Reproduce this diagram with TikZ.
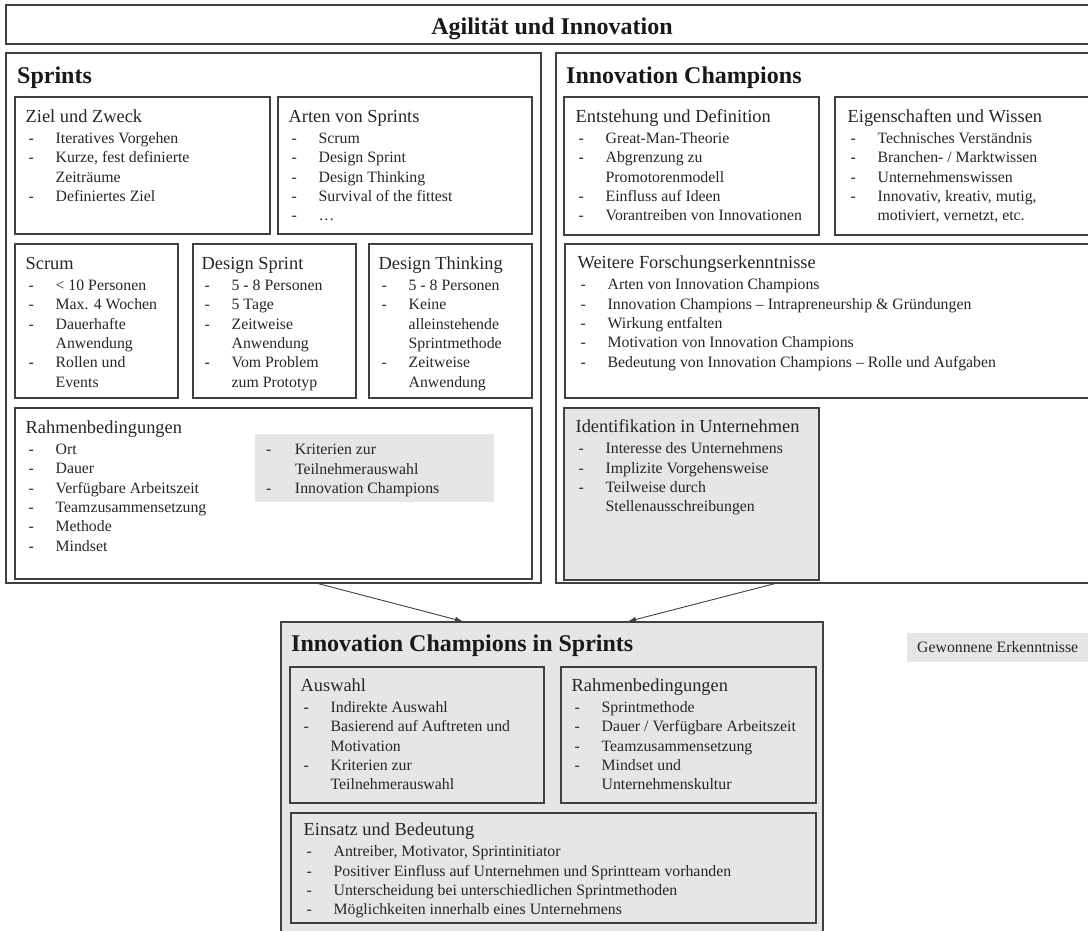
\documentclass[tikz,border=0pt]{standalone}
\usepackage{fontspec}
\setmainfont{Liberation Serif}
\usepackage{tikz}
\usetikzlibrary{positioning,arrows.meta}

\definecolor{linegray}{RGB}{64,64,64}
\definecolor{fillgray}{RGB}{230,230,230}
\definecolor{textgray}{RGB}{38,38,38}

\newcommand{\headfont}{\fontsize{18.4}{22}\selectfont}
% heading plus dashed list
\newcommand{\boxlist}[2]{%
  \begin{tabular}[t]{@{\hspace{3pt}}p{27pt}@{}l@{}}
    \multicolumn{2}{@{}l@{}}{\headfont #1}\\[1.4pt]
    #2
  \end{tabular}}
% dashed list only
\newcommand{\plainlist}[1]{%
  \begin{tabular}[t]{@{}p{29pt}@{}l@{}}
    #1
  \end{tabular}}

\begin{document}
\begin{tikzpicture}[x=1pt, y=-1pt,
  box/.style = {draw=linegray, line width=1.1pt, rectangle, inner sep=0pt},
  greybox/.style = {box, fill=fillgray},
  txt/.style = {anchor=base west, inner sep=0pt, text=textgray, font=\fontsize{15.8}{19.4}\selectfont},
  bigtitle/.style = {anchor=base west, inner sep=0pt, text=black!90, font=\bfseries\fontsize{24}{28}\selectfont},
  arr/.style = {draw=linegray, line width=0.9pt, -{Latex[length=8pt,width=5.5pt]}}]

\useasboundingbox (0,0) rectangle (1088,930);

% Boxes
\node[box, minimum width=1094pt, minimum height=39pt] (top) at (553,24.5) {};
\node[box, minimum width=535pt, minimum height=530pt] (sprints) at (273.5,318) {};
\node[box, minimum width=255pt, minimum height=137pt] (ziel) at (142.5,165.5) {};
\node[box, minimum width=254pt, minimum height=137pt] (arten) at (405,165.5) {};
\node[box, minimum width=163pt, minimum height=154pt] (scrum) at (96.5,321) {};
\node[box, minimum width=163pt, minimum height=154pt] (dsprint) at (274.5,321) {};
\node[box, minimum width=163pt, minimum height=154pt] (dthink) at (450.5,321) {};
\node[box, minimum width=517pt, minimum height=171pt] (rahmen) at (273.5,493.5) {};
\node[fill=fillgray, inner sep=0pt, minimum width=239pt, minimum height=68pt] (krit) at (374.5,468) {};

\node[box, minimum width=544pt, minimum height=530pt] (ic) at (828,318) {};
\node[box, minimum width=255pt, minimum height=138pt] (entst) at (691.5,166) {};
\node[box, minimum width=265pt, minimum height=138pt] (eigen) at (967.5,166) {};
\node[box, minimum width=535pt, minimum height=154pt] (weitere) at (832.5,321) {};
\node[greybox, minimum width=255pt, minimum height=172pt] (ident) at (691.5,494) {};

\node[greybox, minimum width=542pt, minimum height=318pt] (ics) at (552,781) {};
\node[box, minimum width=254pt, minimum height=136pt] (auswahl) at (417,735) {};
\node[box, minimum width=255pt, minimum height=136pt] (rahmen2) at (688.5,735) {};
\node[box, minimum width=525pt, minimum height=110pt] (einsatz) at (553.5,868) {};

\node[fill=fillgray, inner sep=0pt, minimum width=193pt, minimum height=29pt] (gewonnen) at (1003.5,647.5) {};

% Titles
\node[bigtitle, anchor=base] (top-txt) at (552,34) {Agilität und Innovation};
\node[bigtitle] (sprints-txt) at (17,83) {Sprints};
\node[bigtitle] (ic-txt) at (566,83) {Innovation Champions};
\node[bigtitle] (ics-txt) at (291,651) {Innovation Champions in Sprints};

% Texts
\node[txt] (ziel-txt) at ([shift={(11pt,-26pt)}]ziel.north west) {\boxlist{Ziel und Zweck}{%
  - & Iteratives Vorgehen\\
  - & Kurze, fest definierte\\
    & Zeiträume\\
  - & Definiertes Ziel}};
\node[txt] (arten-txt) at ([shift={(11pt,-26pt)}]arten.north west) {\boxlist{Arten von Sprints}{%
  - & Scrum\\
  - & Design Sprint\\
  - & Design Thinking\\
  - & Survival of the fittest\\
  - & …}};
\node[txt] (scrum-txt) at ([shift={(11pt,-26pt)}]scrum.north west) {\boxlist{Scrum}{%
  - & < 10 Personen\\
  - & Max. 4 Wochen\\
  - & Dauerhafte\\
    & Anwendung\\
  - & Rollen und\\
    & Events}};
\node[txt] (dsprint-txt) at ([shift={(9pt,-26pt)}]dsprint.north west) {\boxlist{Design Sprint}{%
  - & 5 - 8 Personen\\
  - & 5 Tage\\
  - & Zeitweise\\
    & Anwendung\\
  - & Vom Problem\\
    & zum Prototyp}};
\node[txt] (dthink-txt) at ([shift={(10pt,-26pt)}]dthink.north west) {\boxlist{Design Thinking}{%
  - & 5 - 8 Personen\\
  - & Keine\\
    & alleinstehende\\
    & Sprintmethode\\
  - & Zeitweise\\
    & Anwendung}};
\node[txt] (rahmen-txt) at ([shift={(11pt,-26pt)}]rahmen.north west) {\boxlist{Rahmenbedingungen}{%
  - & Ort\\
  - & Dauer\\
  - & Verfügbare Arbeitszeit\\
  - & Teamzusammensetzung\\
  - & Methode\\
  - & Mindset}};
\node[txt] (krit-txt) at ([shift={(11pt,-21pt)}]krit.north west) {\plainlist{%
  - & Kriterien zur\\
    & Teilnehmerauswahl\\
  - & Innovation Champions}};

\node[txt] (entst-txt) at ([shift={(12pt,-26pt)}]entst.north west) {\boxlist{Entstehung und Definition}{%
  - & Great-Man-Theorie\\
  - & Abgrenzung zu\\
    & Promotorenmodell\\
  - & Einfluss auf Ideen\\
  - & Vorantreiben von Innovationen}};
\node[txt] (eigen-txt) at ([shift={(13pt,-26pt)}]eigen.north west) {\boxlist{Eigenschaften und Wissen}{%
  - & Technisches Verständnis\\
  - & Branchen- / Marktwissen\\
  - & Unternehmenswissen\\
  - & Innovativ, kreativ, mutig,\\
    & motiviert, vernetzt, etc.}};
\node[txt] (weitere-txt) at ([shift={(13pt,-25.5pt)}]weitere.north west) {\boxlist{Weitere Forschungserkenntnisse}{%
  - & Arten von Innovation Champions\\
  - & Innovation Champions -- Intrapreneurship \& Gründungen\\
  - & Wirkung entfalten\\
  - & Motivation von Innovation Champions\\
  - & Bedeutung von Innovation Champions -- Rolle und Aufgaben}};
\node[txt] (ident-txt) at ([shift={(12pt,-25.5pt)}]ident.north west) {\boxlist{Identifikation in Unternehmen}{%
  - & Interesse des Unternehmens\\
  - & Implizite Vorgehensweise\\
  - & Teilweise durch\\
    & Stellenausschreibungen}};

\node[txt] (auswahl-txt) at ([shift={(11pt,-25pt)}]auswahl.north west) {\boxlist{Auswahl}{%
  - & Indirekte Auswahl\\
  - & Basierend auf Auftreten und\\
    & Motivation\\
  - & Kriterien zur\\
    & Teilnehmerauswahl}};
\node[txt] (rahmen2-txt) at ([shift={(11pt,-25pt)}]rahmen2.north west) {\boxlist{Rahmenbedingungen}{%
  - & Sprintmethode\\
  - & Dauer / Verfügbare Arbeitszeit\\
  - & Teamzusammensetzung\\
  - & Mindset und\\
    & Unternehmenskultur}};
\node[txt] (einsatz-txt) at ([shift={(13pt,-23.5pt)}]einsatz.north west) {\boxlist{Einsatz und Bedeutung}{%
  - & Antreiber, Motivator, Sprintinitiator\\
  - & Positiver Einfluss auf Unternehmen und Sprintteam vorhanden\\
  - & Unterscheidung bei unterschiedlichen Sprintmethoden\\
  - & Möglichkeiten innerhalb eines Unternehmens}};

\node[txt] (gewonnen-txt) at (917,652) {Gewonnene Erkenntnisse};

% Edges
\draw[arr] ([xshift=44.5pt]sprints.south) -- ([xshift=-89pt]ics.north);
\draw[arr] ([xshift=-53pt]ic.south) -- ([xshift=76pt]ics.north);
\end{tikzpicture}
\end{document}
